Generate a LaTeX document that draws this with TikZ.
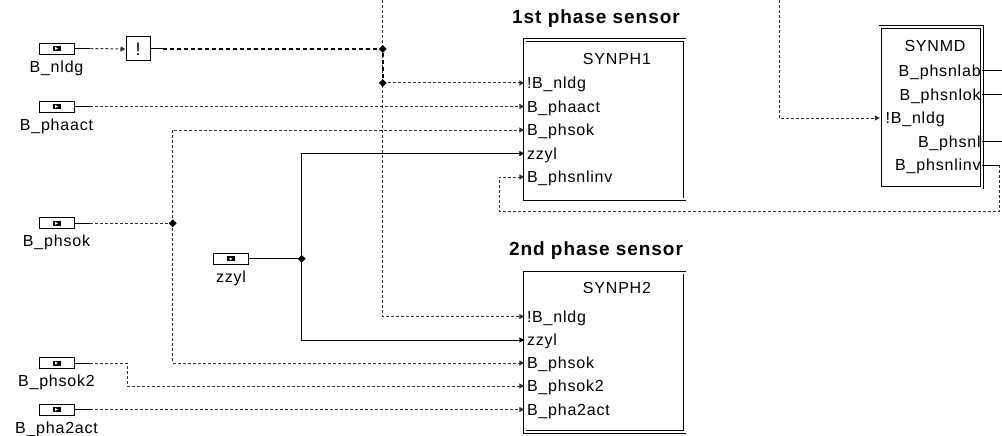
\documentclass[tikz,border=0pt]{standalone}
\usepackage{fontspec}
\setmainfont{Liberation Sans}[LetterSpace=5]
\usetikzlibrary{arrows.meta,shapes.geometric,positioning}

\tikzset{
  wire/.style={line width=1pt,black!80,dash pattern=on 3pt off 2pt},
  boldwire/.style={line width=2pt,dash pattern=on 4pt off 3pt},
  solidwire/.style={line width=1pt},
  sig/.style={-{Triangle[length=5pt,width=5pt]}},
  dot/.style={diamond,fill,inner sep=0pt,minimum size=8pt},
  inpin/.style={draw,line width=0.8pt,minimum width=35pt,minimum height=11pt,inner sep=0pt,
    path picture={\fill ([xshift=-4pt,yshift=-2.5pt]path picture bounding box.center) rectangle ++(8pt,5pt);
      \fill[white] ([xshift=-1.5pt,yshift=-1.5pt]path picture bounding box.center) -- ++(3pt,1.5pt) -- ++(-3pt,1.5pt) -- cycle;}},
  blk/.style={draw,double,double distance=1.8pt,line width=0.7pt,inner sep=0pt,anchor=north west},
  port/.style={anchor=west,inner sep=0pt,xshift=2.5pt,yshift=-1.5pt},
  oport/.style={anchor=east,inner sep=0pt,xshift=-1.5pt,yshift=-1.5pt},
  lbl/.style={inner sep=0pt},
  hdr/.style={anchor=base,font=\fontsize{19}{22}\selectfont\bfseries}
}

\begin{document}
\begin{tikzpicture}[x=1pt,y=-1pt,font=\fontsize{16}{19}\selectfont]
\useasboundingbox (0,0) rectangle (1002,436);
% input pins
\node[inpin] (nldg) at (56.5,48.5) {};
\node[inpin] (phaact) at (56.5,106.5) {};
\node[inpin] (phsok) at (56.5,223.3) {};
\node[inpin] (zzyl) at (231,258.8) {};
\node[inpin] (phsok2) at (56.5,363) {};
\node[inpin] (pha2act) at (56.5,409.5) {};
\foreach \n/\t in {nldg/B\_nldg,phaact/B\_phaact,phsok/B\_phsok,zzyl/zzyl,phsok2/B\_phsok2,pha2act/B\_pha2act}
  \node[lbl,below=6pt of \n] (\n-l) {\t};
\foreach \n in {nldg,phaact,phsok,phsok2,pha2act}
  \coordinate[right=16pt of \n] (\n s);
\node[draw,line width=1pt,minimum size=24pt,inner sep=0pt,font=\fontsize{18}{20}\selectfont] (inv) at (138,49) {!};
\coordinate[right=12pt of inv] (invs);
% blocks
\node[hdr] (h1) at (596,24) {1st phase sensor};
\node[hdr] (h2) at (596,255) {2nd phase sensor};
\node[blk,minimum width=160pt,minimum height=159.3pt] (ph1) at (524.3,39.6) {};
\node[blk,minimum width=160pt,minimum height=159.4pt] (ph2) at (524.3,272.3) {};
\node[blk,minimum width=101.8pt,minimum height=160.8pt] (md) at (879.9,26.6) {};
\node (ph1t) at (617,59) {SYNPH1};
\node (ph2t) at (617,288.3) {SYNPH2};
\node (mdt) at (935,45.5) {SYNMD};
\foreach \y/\t [count=\i] in {83/!B\_nldg,106.5/B\_phaact,130/B\_phsok,153.5/zzyl,177/B\_phsnlinv}{
  \coordinate (ph1in\i) at (ph1.west |- 0,\y);
  \node[port] (ph1p\i) at (ph1in\i) {\t};}
\foreach \y/\t [count=\i] in {316.5/!B\_nldg,340/zzyl,363/B\_phsok,386/B\_phsok2,409.5/B\_pha2act}{
  \coordinate (ph2in\i) at (ph2.west |- 0,\y);
  \node[port] (ph2p\i) at (ph2in\i) {\t};}
\foreach \y/\t [count=\i] in {71/B\_phsnlab,94.5/B\_phsnlok,141.5/B\_phsnl,165/B\_phsnlinv}{
  \coordinate (mdout\i) at (md.east |- 0,\y);
  \node[oport] (mdp\i) at (mdout\i) {\t};}
\coordinate (mdin) at (md.west |- 0,118);
\node[port,xshift=3pt] (mdpin) at (mdin) {!B\_nldg};
% junctions and free ends
\coordinate (j1) at (382.7,49);
\coordinate (j2) at (382.7,83);
\coordinate (j3) at (172.7,223.3);
\coordinate (j4) at (301.7,258.8);
\coordinate (topA) at (382.7,0);
\coordinate (topB) at (779.3,0);
\coordinate (edge) at (1002,0);
\coordinate (fb1) at (999.3,211.7);
\coordinate (fb2) at (499.3,211.7);
% wires
\foreach \n in {nldg,phaact,phsok,phsok2,pha2act}
  \draw[solidwire] (\n.east) -- (\n s);
\draw[wire,sig] (nldgs) -- (inv.west);
\draw[solidwire] (inv.east) -- (invs);
\draw[wire,sig] (topA) -- (topA |- ph2in1) -- (ph2in1);
\draw[boldwire] (invs) -- (j1) -- (j2);
\draw[wire,sig] (j2) -- (ph1in1);
\draw[wire,sig] (phaacts) -- (ph1in2);
\draw[wire] (phsoks) -- (j3);
\draw[wire,sig] (j3) -- (j3 |- ph1in3) -- (ph1in3);
\draw[wire,sig] (j3) -- (j3 |- ph2in3) -- (ph2in3);
\draw[solidwire] (zzyl.east) -- (j4);
\draw[solidwire,sig] (j4) -- (j4 |- ph1in4) -- (ph1in4);
\draw[solidwire,sig] (j4) -- (j4 |- ph2in2) -- (ph2in2);
\draw[wire,sig] (phsok2s) -- ++(36.7,0) |- (ph2in4);
\draw[wire,sig] (pha2acts) -- (ph2in5);
\draw[wire,sig] (topB) |- (mdin);
\foreach \i in {1,2,3}
  \draw[solidwire] (mdout\i) -- (mdout\i -| edge);
\draw[solidwire] (mdout4) -- (mdout4 -| fb1);
\draw[wire,sig] (mdout4 -| fb1) -- (fb1) -- (fb2) |- (ph1in5);
\foreach \j in {j1,j2,j3,j4}
  \node[dot] (\j d) at (\j) {};
\end{tikzpicture}
\end{document}
